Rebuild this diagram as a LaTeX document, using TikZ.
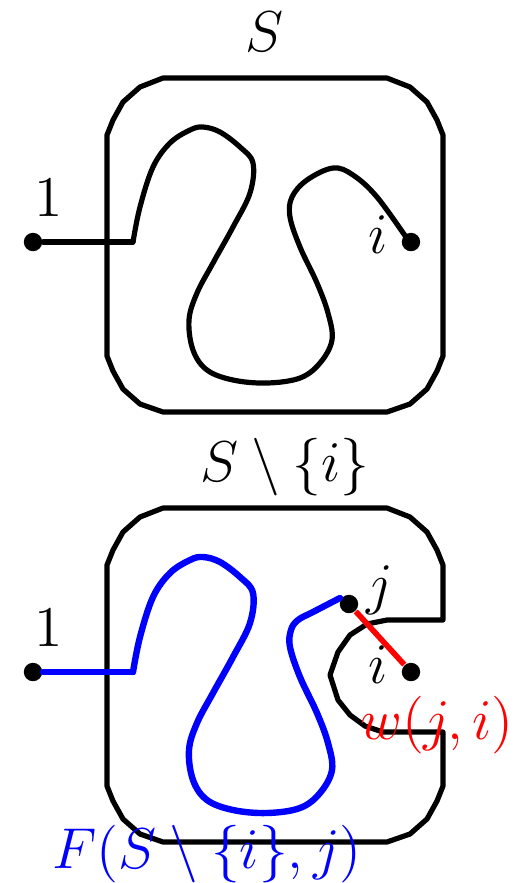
\documentclass[tikz,border=0pt]{standalone}
\usetikzlibrary{calc}
\definecolor{cpath}{RGB}{0,0,255}
\definecolor{cedge}{RGB}{255,0,0}

\begin{document}
\begin{tikzpicture}[x=0.25pt,y=-0.25pt,font=\Large,
   vtx/.style={circle,fill=black,inner sep=0pt,minimum size=4.6pt},
   setline/.style={line width=1.3pt,line join=round},
   walk/.style={line width=1.3pt,line cap=round,line join=round},
   bluewalk/.style={walk,cpath,line width=1.6pt},
   wedge/.style={line width=1.4pt,cedge}]
  \useasboundingbox (0,0) rectangle (518,883);
  % top panel: S
  \draw[setline] (163,78) -- (387,78) -- (410,87) -- (427,102) -- (437,120) -- (443,135)
    -- (443,356) -- (437,371) -- (427,389) -- (410,404) -- (387,412) -- (163,412)
    -- (140,404) -- (123,389) -- (113,371) -- (107,356) -- (107,135) -- (113,120)
    -- (123,102) -- (140,87) -- cycle;
  \node (setS) at (265,32) {$S$};
  \node[vtx] (one) at (33,242) {};
  \node (oneL) at (49,198) {$1$};
  \node[vtx] (ii) at (411,242) {};
  \node (iiL) at (378,235) {$i$};
  \coordinate (kink) at (133,242);
  \draw[walk] (one) -- (kink);
  \draw[walk] plot[smooth,tension=0.6] coordinates {(kink) (140,207) (153,167) (170,143)
    (190,130) (203,127) (220,132) (240,147) (253,163) (250,193) (233,227) (213,263)
    (197,293) (189,320) (193,350) (207,370) (233,380) (267,383) (300,378) (320,363)
    (332,340) (328,313) (317,283) (300,247) (290,217) (292,197) (307,180) (333,168)
    (353,175) (377,197) (408,240)};
  % bottom panel: S minus i
  \begin{scope}[shift={(0,430)}]
    \draw[setline] (163,78) -- (387,78) -- (410,87) -- (427,102) -- (437,120) -- (443,135)
      -- (443,190) -- (387,190) -- (367,194) -- (350,205) -- (338,222) -- (330,245)
      -- (338,270) -- (350,285) -- (365,296) -- (383,302) -- (443,302)
      -- (443,356) -- (437,371) -- (427,389) -- (410,404) -- (387,412) -- (163,412)
      -- (140,404) -- (123,389) -- (113,371) -- (107,356) -- (107,135) -- (113,120)
      -- (123,102) -- (140,87) -- cycle;
    \node (setSi) at (285,37) {$S\setminus\{i\}$};
    \node[vtx] (one2) at (33,242) {};
    \node (one2L) at (49,198) {$1$};
    \node[vtx] (jj) at (349,174) {};
    \node (jjL) at (380,160) {$j$};
    \node[vtx] (ii2) at (411,242) {};
    \node (ii2L) at (378,235) {$i$};
    \coordinate (kink2) at (133,242);
    \draw[bluewalk] (one2) -- (kink2);
    \draw[bluewalk] plot[smooth,tension=0.6] coordinates {(kink2) (140,207) (153,167) (170,143)
      (190,130) (203,127) (220,132) (240,147) (253,163) (250,193) (233,227) (213,263)
      (197,293) (189,320) (193,350) (207,370) (233,380) (267,383) (300,378) (320,363)
      (332,340) (328,313) (317,283) (300,247) (290,217) (291,200) (298,190) (313,182)
      (340,168)};
    \draw[wedge] (jj) -- (ii2);
    \node[cedge] (wji) at (437,295) {$w(j,i)$};
    \node[cpath] (fsij) at (207,424) {$F(S\setminus\{i\},j)$};
  \end{scope}
\end{tikzpicture}
\end{document}
